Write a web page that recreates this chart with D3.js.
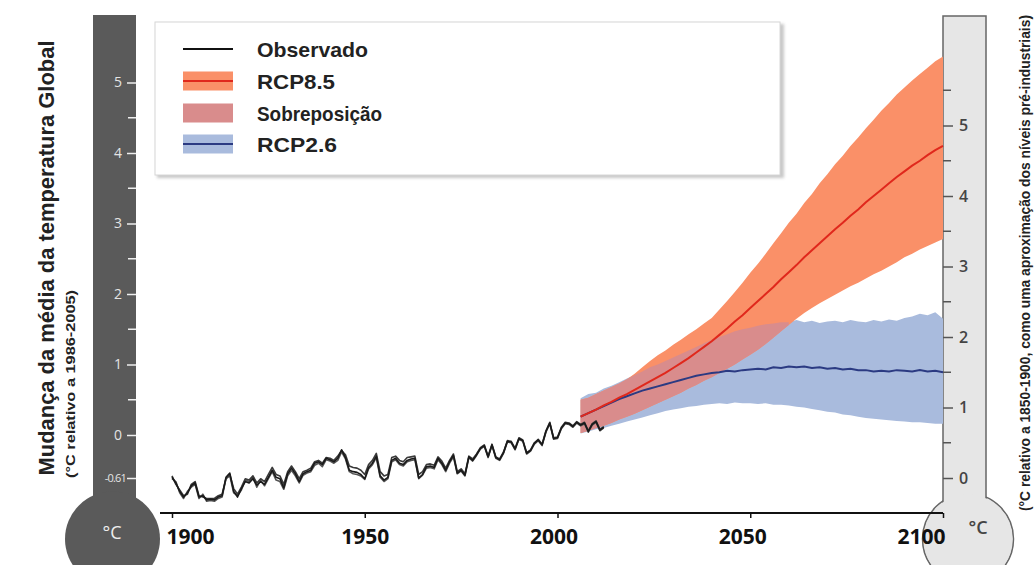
<!DOCTYPE html>
<html><head><meta charset="utf-8">
<script src="https://cdn.jsdelivr.net/npm/d3@7"></script>
<style>body{margin:0;background:#fff}svg{display:block}</style>
</head><body><svg id="c" width="1035" height="565"></svg>
<script>
// ---------- DATA ----------
const obsYears = d3.range(1900, 2013);
const observed1 = [
-0.60,-0.68,-0.80,-0.88,-0.82,-0.72,-0.68,-0.88,-0.86,-0.92,
-0.91,-0.92,-0.88,-0.86,-0.60,-0.54,-0.80,-0.88,-0.76,-0.66,
-0.68,-0.62,-0.71,-0.66,-0.70,-0.60,-0.50,-0.60,-0.62,-0.75,
-0.55,-0.47,-0.55,-0.66,-0.55,-0.52,-0.50,-0.40,-0.38,-0.42,
-0.33,-0.35,-0.38,-0.33,-0.21,-0.32,-0.50,-0.52,-0.53,-0.56,
-0.62,-0.46,-0.40,-0.30,-0.58,-0.64,-0.60,-0.36,-0.33,-0.40,
-0.42,-0.36,-0.34,-0.33,-0.61,-0.56,-0.45,-0.44,-0.46,-0.33,
-0.40,-0.50,-0.38,-0.29,-0.54,-0.50,-0.57,-0.31,-0.36,-0.28,
-0.19,-0.15,-0.31,-0.14,-0.32,-0.35,-0.25,-0.09,-0.10,-0.20,
-0.05,-0.08,-0.26,-0.22,-0.12,-0.07,-0.14,0.05,0.17,-0.05,
-0.04,0.10,0.17,0.16,0.12,0.18,0.14,0.17,0.05,0.15,
0.19,0.07,0.11];
const observed2 = [
-0.58,-0.70,-0.78,-0.86,-0.84,-0.70,-0.66,-0.86,-0.88,-0.90,
-0.90,-0.90,-0.86,-0.84,-0.62,-0.56,-0.76,-0.84,-0.74,-0.62,
-0.64,-0.58,-0.68,-0.62,-0.66,-0.56,-0.46,-0.56,-0.58,-0.70,
-0.52,-0.44,-0.52,-0.62,-0.52,-0.50,-0.47,-0.38,-0.36,-0.40,
-0.32,-0.33,-0.36,-0.30,-0.22,-0.28,-0.44,-0.46,-0.47,-0.50,
-0.56,-0.42,-0.36,-0.26,-0.52,-0.58,-0.56,-0.32,-0.30,-0.36,
-0.38,-0.32,-0.31,-0.30,-0.56,-0.52,-0.42,-0.41,-0.43,-0.31,
-0.37,-0.47,-0.36,-0.27,-0.52,-0.48,-0.55,-0.30,-0.34,-0.27,
-0.18,-0.14,-0.30,-0.13,-0.31,-0.34,-0.24,-0.08,-0.09,-0.19,
-0.04,-0.07,-0.25,-0.21,-0.11,-0.06,-0.13,0.06,0.18,-0.04,
-0.03,0.11,0.18,0.17,0.13,0.19,0.15,0.18,0.06,0.16,
0.20,0.08,0.12];
const observed3 = [
-0.62,-0.66,-0.82,-0.90,-0.80,-0.74,-0.70,-0.90,-0.84,-0.94,
-0.93,-0.94,-0.90,-0.88,-0.62,-0.58,-0.82,-0.86,-0.78,-0.64,
-0.66,-0.60,-0.74,-0.64,-0.72,-0.62,-0.52,-0.64,-0.66,-0.77,
-0.58,-0.50,-0.58,-0.68,-0.57,-0.54,-0.52,-0.43,-0.40,-0.45,
-0.35,-0.37,-0.40,-0.36,-0.24,-0.34,-0.52,-0.55,-0.56,-0.58,
-0.63,-0.48,-0.42,-0.32,-0.60,-0.66,-0.62,-0.38,-0.35,-0.42,
-0.44,-0.38,-0.36,-0.35,-0.62,-0.57,-0.47,-0.46,-0.48,-0.35,
-0.42,-0.52,-0.40,-0.31,-0.55,-0.51,-0.58,-0.32,-0.37,-0.29,
-0.20,-0.16,-0.32,-0.15,-0.33,-0.36,-0.26,-0.10,-0.11,-0.21,
-0.06,-0.09,-0.27,-0.23,-0.13,-0.08,-0.15,0.04,0.16,-0.06,
-0.05,0.09,0.16,0.15,0.11,0.17,0.13,0.16,0.04,0.14,
0.18,0.06,0.10];

const projYears = d3.range(2006, 2101, 2);
const rcp85Mean = [0.26,0.31,0.36,0.42,0.47,0.53,0.58,0.64,0.70,0.76,0.82,0.88,0.95,1.02,1.09,1.17,1.25,1.33,1.42,1.51,1.61,1.70,1.80,1.90,2.00,2.10,2.21,2.31,2.41,2.52,2.62,2.72,2.82,2.92,3.01,3.11,3.20,3.30,3.39,3.48,3.57,3.66,3.74,3.82,3.89,3.97,4.04,4.10];
const rcp85High = [0.50,0.53,0.58,0.63,0.68,0.73,0.79,0.87,0.96,1.05,1.13,1.20,1.28,1.35,1.43,1.50,1.58,1.66,1.78,1.90,2.03,2.16,2.30,2.43,2.57,2.72,2.86,3.01,3.14,3.29,3.42,3.57,3.70,3.84,3.96,4.10,4.22,4.35,4.47,4.60,4.71,4.83,4.93,5.03,5.12,5.21,5.30,5.37];
const rcp85Low = [0.03,0.06,0.10,0.13,0.17,0.22,0.26,0.30,0.35,0.40,0.45,0.50,0.55,0.60,0.66,0.71,0.77,0.82,0.88,0.94,1.00,1.07,1.14,1.21,1.29,1.38,1.47,1.56,1.65,1.73,1.80,1.87,1.93,1.99,2.05,2.11,2.16,2.22,2.28,2.33,2.39,2.45,2.52,2.57,2.63,2.68,2.73,2.78];
const rcp26Mean = [0.26,0.31,0.36,0.41,0.46,0.51,0.55,0.59,0.63,0.66,0.69,0.72,0.75,0.78,0.81,0.84,0.86,0.88,0.89,0.91,0.90,0.92,0.93,0.94,0.93,0.96,0.95,0.97,0.96,0.97,0.95,0.96,0.94,0.95,0.93,0.94,0.92,0.92,0.90,0.91,0.90,0.92,0.91,0.90,0.92,0.90,0.91,0.89];
const rcp26High = [0.52,0.58,0.60,0.66,0.70,0.75,0.80,0.85,0.90,0.96,1.00,1.05,1.10,1.15,1.20,1.25,1.30,1.35,1.39,1.43,1.47,1.50,1.52,1.55,1.57,1.58,1.60,1.60,1.63,1.60,1.62,1.59,1.61,1.62,1.60,1.63,1.61,1.60,1.63,1.61,1.64,1.62,1.66,1.68,1.72,1.70,1.74,1.65];
const rcp26Low = [0.02,0.05,0.08,0.10,0.13,0.16,0.19,0.22,0.25,0.28,0.31,0.34,0.36,0.38,0.40,0.41,0.43,0.44,0.45,0.44,0.46,0.45,0.45,0.44,0.45,0.43,0.43,0.42,0.40,0.39,0.37,0.35,0.33,0.32,0.29,0.28,0.26,0.24,0.23,0.22,0.21,0.20,0.19,0.18,0.18,0.17,0.16,0.16];

const xTicks = [1900, 1950, 2000, 2050, 2100];
const leftTicks = [-0.61, 0, 1, 2, 3, 4, 5];
const leftMinor = [0.5, 1.5, 2.5, 3.5, 4.5];
const rightTicks = [0, 1, 2, 3, 4, 5];
const rightMinor = [0.5, 1.5, 2.5, 3.5, 4.5, 5.5];
const legendLabels = ["Observado", "RCP8.5", "Sobreposição", "RCP2.6"];
const leftTitle = "Mudança da média da temperatura Global";
const leftSub = "(°C relativo a 1986-2005)";
const rightTitle = "(°C relativo a 1850-1900, como uma aproximação dos níveis pré-industriais)";

// ---------- DRAW ----------
const C = {o85:"#fa9068", red:"#e0281c", b26:"#a9bbdd", navy:"#2b3a82", pink:"#d98c8c", dark:"#5a5a5a"};
const NARROW = "'Liberation Sans','Arial',sans-serif";
const svg = d3.select('#c');
svg.append('rect').attr('width',1035).attr('height',565).attr('fill','#fff');

const x = d3.scaleLinear().domain([1900, 2100]).range([172, 943]);
const y = d3.scaleLinear().domain([0, 5]).range([435, 82.5]);
const yR = d3.scaleLinear().domain([0.61, 5.61]).range([435, 82.5]);

// Left thermometer
svg.append('rect').attr('x',93).attr('y',15).attr('width',43).attr('height',510).attr('fill',C.dark);
svg.append('circle').attr('cx',112.5).attr('cy',539).attr('r',47.5).attr('fill',C.dark);
svg.append('text').attr('x',112).attr('y',539).attr('text-anchor','middle')
  .attr('font-family','Open Sans, sans-serif').attr('font-size',18).attr('fill','#eee').text('°C');

// Right thermometer
const rt = svg.append('g');
rt.append('circle').attr('cx',968).attr('cy',539).attr('r',45.5).attr('fill','#e6e6e6').attr('stroke','#666').attr('stroke-width',1.5);
rt.append('rect').attr('x',943).attr('y',16).attr('width',43).attr('height',490).attr('fill','#e6e6e6').attr('stroke','#666').attr('stroke-width',1.5);
rt.append('rect').attr('x',944).attr('y',470).attr('width',41).attr('height',60).attr('fill','#e6e6e6');
rt.append('circle').attr('cx',968).attr('cy',539).attr('r',44.5).attr('fill','#e6e6e6');
rt.append('text').attr('x',978).attr('y',534).attr('text-anchor','middle')
  .attr('font-family','Open Sans, sans-serif').attr('font-size',18).attr('font-weight',600).attr('fill','#444').text('°C');

// Bands
const band = (lo, hi) => d3.area()
  .x((d,i)=>x(projYears[i])).y0((d,i)=>y(lo[i])).y1((d,i)=>y(hi[i]));
svg.append('path').datum(projYears).attr('d', band(rcp26Low, rcp26High)).attr('fill', C.b26);
svg.append('path').datum(projYears).attr('d', band(rcp85Low, rcp85High)).attr('fill', C.o85);
const ovLo = projYears.map((d,i)=>Math.max(rcp85Low[i], rcp26Low[i]));
const ovHi = projYears.map((d,i)=>Math.min(rcp85High[i], rcp26High[i]));
svg.append('path').datum(projYears)
  .attr('d', band(ovLo, ovHi).defined((d,i)=>ovHi[i] > ovLo[i]))
  .attr('fill', C.pink);

const line = vals => d3.line().x((d,i)=>x(projYears[i])).y((d,i)=>y(vals[i]));
svg.append('path').datum(projYears).attr('d', line(rcp26Mean)).attr('fill','none').attr('stroke',C.navy).attr('stroke-width',2);
svg.append('path').datum(projYears).attr('d', line(rcp85Mean)).attr('fill','none').attr('stroke',C.red).attr('stroke-width',2);

// Observed
const oLine = vals => d3.line().x((d,i)=>x(obsYears[i])).y((d,i)=>y(vals[i]));
[[observed3,'#555'],[observed2,'#3a3a3a'],[observed1,'#1a1a1a']].forEach(([v,c])=>{
  svg.append('path').datum(obsYears).attr('d', oLine(v)).attr('fill','none')
    .attr('stroke',c).attr('stroke-width',1.6).attr('stroke-linejoin','round');
});

// X axis
const xa = svg.append('g').attr('transform','translate(0,513)')
  .call(d3.axisBottom(x).tickValues(xTicks).tickSize(5).tickSizeOuter(0).tickFormat(d3.format('d')));
xa.select('.domain').attr('d','M160,0H943').attr('stroke','#111').attr('stroke-width',2);
xa.selectAll('.tick line').attr('stroke','#111').attr('stroke-width',1.5);
xa.selectAll('.tick text').attr('font-family','Open Sans, sans-serif').attr('font-weight',700)
  .attr('font-size',21).attr('fill','#111').attr('y',16)
  .attr('text-anchor', d => d===1900 ? 'start' : d===2100 ? 'end' : 'middle')
  .attr('dx', d => d===1900 ? -6 : d===2100 ? 2 : d===2050 ? -8 : d===2000 ? -4 : 0);

// Left axis
const la = svg.append('g').attr('transform','translate(136,0)')
  .call(d3.axisLeft(y).tickValues(leftTicks).tickSize(9).tickFormat(d=>d===-0.61?'-0.61':d));
la.select('.domain').remove();
la.selectAll('.tick line').attr('stroke','#eee').attr('stroke-width',1.5);
la.selectAll('.tick text').attr('font-family','Open Sans, sans-serif')
  .attr('fill','#e4e4e4').attr('x',d=>d===-0.61?-10:-14)
  .attr('letter-spacing', d=>d===-0.61? -0.8 : 0).attr('font-size', d=>d===-0.61?11:14);
la.selectAll('.minor').data(leftMinor).join('line').attr('class','minor')
  .attr('x1',-8).attr('x2',0).attr('y1',d=>y(d)).attr('y2',d=>y(d)).attr('stroke','#eee').attr('stroke-width',1.5);

// Right axis
const ra = svg.append('g').attr('transform','translate(943,0)')
  .call(d3.axisRight(yR).tickValues(rightTicks).tickSize(10).tickFormat(d3.format('d')));
ra.select('.domain').remove();
ra.selectAll('.tick line').attr('stroke','#555').attr('stroke-width',1.5);
ra.selectAll('.tick text').attr('font-family','Open Sans, sans-serif').attr('font-size',16).attr('font-weight',600)
  .attr('fill','#444').attr('x',16);
ra.selectAll('.minor').data(rightMinor).join('line').attr('class','minor')
  .attr('x1',0).attr('x2',8).attr('y1',d=>yR(d)).attr('y2',d=>yR(d)).attr('stroke','#555').attr('stroke-width',1.5);

// Titles
svg.append('text').attr('transform','translate(54,258) rotate(-90)').attr('text-anchor','middle')
  .attr('font-family',NARROW).attr('font-weight','bold').attr('font-size',22).attr('fill','#222')
  .attr('textLength',435).attr('lengthAdjust','spacingAndGlyphs').text(leftTitle);
svg.append('text').attr('transform','translate(75,384) rotate(-90)').attr('text-anchor','middle')
  .attr('font-family',NARROW).attr('font-weight','bold').attr('font-size',13).attr('fill','#222')
  .attr('textLength',188).attr('lengthAdjust','spacingAndGlyphs').text(leftSub);
svg.append('text').attr('transform','translate(1030,263) rotate(-90)').attr('text-anchor','middle')
  .attr('font-family',NARROW).attr('font-weight','bold').attr('font-size',14).attr('fill','#222')
  .attr('textLength',496).attr('lengthAdjust','spacingAndGlyphs').text(rightTitle);

// Legend
const defs = svg.append('defs');
defs.append('filter').attr('id','sh').attr('x','-5%').attr('y','-5%').attr('width','110%').attr('height','120%')
  .append('feGaussianBlur').attr('stdDeviation',1.5);
svg.append('rect').attr('x',157).attr('y',24).attr('width',627).attr('height',154).attr('fill','#c8c8c8').attr('filter','url(#sh)');
svg.append('rect').attr('x',155).attr('y',22).attr('width',625).attr('height',153).attr('fill','#fff').attr('stroke','#d6d6d6');
const rows = [49, 81, 113, 144];
const lens = [111, 78, 125, 80];
const lg = svg.append('g');
lg.append('line').attr('x1',183).attr('x2',233).attr('y1',rows[0]).attr('y2',rows[0]).attr('stroke','#111').attr('stroke-width',2.2);
lg.append('rect').attr('x',183).attr('y',rows[1]-9.5).attr('width',50).attr('height',19).attr('fill',C.o85);
lg.append('line').attr('x1',183).attr('x2',233).attr('y1',rows[1]).attr('y2',rows[1]).attr('stroke',C.red).attr('stroke-width',2);
lg.append('rect').attr('x',183).attr('y',rows[2]-9.5).attr('width',50).attr('height',19).attr('fill',C.pink);
lg.append('rect').attr('x',183).attr('y',rows[3]-9.5).attr('width',50).attr('height',19).attr('fill',C.b26);
lg.append('line').attr('x1',183).attr('x2',233).attr('y1',rows[3]).attr('y2',rows[3]).attr('stroke',C.navy).attr('stroke-width',2);
lg.selectAll('text.lt').data(legendLabels).join('text').attr('class','lt')
  .attr('x',257).attr('y',(d,i)=>rows[i]+8).attr('font-family',NARROW).attr('font-weight','bold')
  .attr('font-size',21).attr('fill','#222')
  .attr('textLength',(d,i)=>lens[i]).attr('lengthAdjust','spacingAndGlyphs').text(d=>d);
</script></body></html>
